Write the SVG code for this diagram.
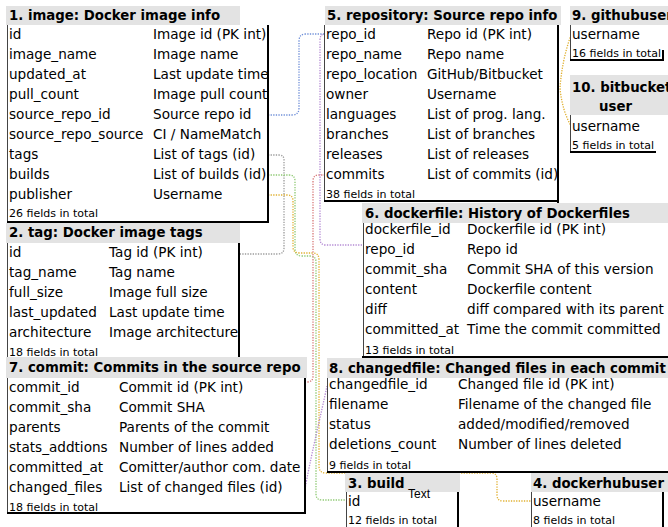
<svg xmlns="http://www.w3.org/2000/svg" width="668" height="527" viewBox="0 0 668 527">
<style>
text{font-family:"DejaVu Sans",Verdana,sans-serif;font-size:13.6px;fill:#000}
.ht{font-weight:bold;font-size:13.3px}
.ft{font-size:11px}
.hd{fill:#e3e3e3}
.body{fill:#fff}
.bl{fill:none;stroke:#444;stroke-width:1}
.br{fill:none;stroke:#000;stroke-width:2}
.c{fill:none;stroke-width:1.3;stroke-dasharray:1.3 1.3}
.lbl{font-family:"Liberation Sans",Arial,sans-serif;font-size:12px}
</style>
<g id="connectors">
<path class="c" stroke="#6f8fd8" d="M268,115 H292 Q299,115 299,108 V41 Q299,34 306,34 H325"/>
<path class="c" stroke="#9a9a9a" d="M268,155 H279 Q284,155 284,160 V248 Q284,254 278,254 H240"/>
<path class="c" stroke="#8cc870" d="M268,175 H289 Q295,175 295,181 V249 Q295,256 302,256 H310 Q316,256 316,262 V494 Q316,500 322,500 H346"/>
<path class="c" stroke="#e0b030" d="M268,195 H287 Q293,195 293,201 V247 Q293,253 300,253 H313 Q319,253 319,260 V466 Q319,473 326,473 H491 Q497,473 497,479 V495 Q497,501 503,501 H531"/>
<path class="c" stroke="#d87878" d="M325,175 H319 Q313,175 313,181 V376 Q313,382 307,382 H305"/>
<path class="c" stroke="#b48ad4" d="M362,245 H326 Q320,245 320,239 V40 Q320,34 325,34"/>
<path class="c" stroke="#b48ad4" d="M305,489 C310,460 322,410 327,386"/>
<path class="c" stroke="#e0b030" d="M571,35 Q562,60 560,88 Q562,110 571,126"/>
</g>
<g id="t1">
<rect class="body" x="7" y="25" width="261" height="197"/>
<rect class="hd" x="6" y="6" width="234" height="19"/>
<text class="ht" x="9" y="20">1. image: Docker image info</text>
<path class="bl" d="M7.5,25 V222"/>
<path class="br" d="M268,25 V222 H7"/>
<text x="9" y="39">id</text><text x="153" y="39">Image id (PK int)</text>
<text x="9" y="59">image_name</text><text x="153" y="59">Image name</text>
<text x="9" y="79">updated_at</text><text x="153" y="79">Last update time</text>
<text x="9" y="99">pull_count</text><text x="153" y="99">Image pull count</text>
<text x="9" y="119">source_repo_id</text><text x="153" y="119">Source repo id</text>
<text x="9" y="139">source_repo_source</text><text x="153" y="139">CI / NameMatch</text>
<text x="9" y="159">tags</text><text x="153" y="159">List of tags (id)</text>
<text x="9" y="179">builds</text><text x="153" y="179">List of builds (id)</text>
<text x="9" y="199">publisher</text><text x="153" y="199">Username</text>
<text class="ft" x="9" y="217">26 fields in total</text>
</g>
<g id="t2">
<rect class="body" x="7" y="243" width="232" height="114"/>
<rect class="hd" x="6" y="223" width="234" height="20"/>
<text class="ht" x="9" y="237">2. tag: Docker image tags</text>
<path class="bl" d="M7.5,243 V357"/>
<path class="br" d="M239,243 V357"/>
<text x="9" y="257">id</text><text x="109" y="257">Tag id (PK int)</text>
<text x="9" y="277">tag_name</text><text x="109" y="277">Tag name</text>
<text x="9" y="297">full_size</text><text x="109" y="297">Image full size</text>
<text x="9" y="317">last_updated</text><text x="109" y="317">Last update time</text>
<text x="9" y="337">architecture</text><text x="109" y="337">Image architecture</text>
<text class="ft" x="9" y="356">18 fields in total</text>
</g>
<g id="t7">
<rect class="body" x="7" y="378" width="298" height="135"/>
<rect class="hd" x="6" y="357" width="301" height="21"/>
<text class="ht" x="9" y="372">7. commit: Commits in the source repo</text>
<path class="bl" d="M7.5,378 V513"/>
<path class="br" d="M305,378 V513 H7"/>
<text x="9" y="392">commit_id</text><text x="119" y="392">Commit id (PK int)</text>
<text x="9" y="412">commit_sha</text><text x="119" y="412">Commit SHA</text>
<text x="9" y="432">parents</text><text x="119" y="432">Parents of the commit</text>
<text x="9" y="452">stats_addtions</text><text x="119" y="452">Number of lines added</text>
<text x="9" y="472">committed_at</text><text x="119" y="472">Comitter/author com. date</text>
<text x="9" y="492">changed_files</text><text x="119" y="492">List of changed files (id)</text>
<text class="ft" x="9" y="511">18 fields in total</text>
</g>
<g id="t5">
<rect class="body" x="324" y="25" width="234" height="176"/>
<rect class="hd" x="325" y="6" width="236" height="19"/>
<text class="ht" x="327" y="20">5. repository: Source repo info</text>
<path class="bl" d="M324.5,25 V201"/>
<path class="br" d="M558,25 V205 M558,201 H324"/>
<text x="326" y="39">repo_id</text><text x="427" y="39">Repo id (PK int)</text>
<text x="326" y="59">repo_name</text><text x="427" y="59">Repo name</text>
<text x="326" y="79">repo_location</text><text x="427" y="79">GitHub/Bitbucket</text>
<text x="326" y="99">owner</text><text x="427" y="99">Username</text>
<text x="326" y="119">languages</text><text x="427" y="119">List of prog. lang.</text>
<text x="326" y="139">branches</text><text x="427" y="139">List of branches</text>
<text x="326" y="159">releases</text><text x="427" y="159">List of releases</text>
<text x="326" y="179">commits</text><text x="427" y="179">List of commits (id)</text>
<text class="ft" x="326" y="198">38 fields in total</text>
</g>
<g id="t9">
<rect class="body" x="570" y="25" width="93" height="35"/>
<rect class="hd" x="570" y="6" width="98" height="19"/>
<text class="ht" x="572" y="20">9. githubuser</text>
<path class="bl" d="M570.5,25 V60"/>
<path class="br" d="M663,50 V60 H570"/>
<text x="572" y="39">username</text>
<text class="ft" x="572" y="57">16 fields in total</text>
</g>
<g id="t10">
<rect class="body" x="570" y="115" width="93" height="37"/>
<rect class="hd" x="570" y="75" width="98" height="40"/>
<text class="ht" x="572" y="92">10. bitbucket</text>
<text class="ht" x="599" y="111">user</text>
<path class="bl" d="M570.5,115 V152"/>
<path class="br" d="M570,152 H656"/>
<text x="572" y="131">username</text>
<text class="ft" x="572" y="149">5 fields in total</text>
</g>
<g id="t6">
<rect class="body" x="363" y="223" width="305" height="134"/>
<rect class="hd" x="362" y="203" width="306" height="20"/>
<text class="ht" x="365" y="218">6. dockerfile: History of Dockerfiles</text>
<path class="bl" d="M363.5,223 V357"/>
<path class="br" d="M362,357 H668"/>
<text x="365" y="234">dockerfile_id</text><text x="467" y="234">Dockerfile id (PK int)</text>
<text x="365" y="254">repo_id</text><text x="467" y="254">Repo id</text>
<text x="365" y="274">commit_sha</text><text x="467" y="274">Commit SHA of this version</text>
<text x="365" y="294">content</text><text x="467" y="294">Dockerfile content</text>
<text x="365" y="314">diff</text><text x="467" y="314">diff compared with its parent</text>
<text x="365" y="334">committed_at</text><text x="467" y="334">Time the commit committed</text>
<text class="ft" x="365" y="354">13 fields in total</text>
</g>
<g id="t8">
<rect class="body" x="327" y="378" width="341" height="94"/>
<rect class="hd" x="327" y="358" width="341" height="20"/>
<text class="ht" x="329" y="373">8. changedfile: Changed files in each commit</text>
<path class="bl" d="M327.5,378 V472"/>
<path class="br" d="M327,472 H668"/>
<text x="329" y="389">changedfile_id</text><text x="458" y="389">Changed file id (PK int)</text>
<text x="329" y="409">filename</text><text x="458" y="409">Filename of the changed file</text>
<text x="329" y="429">status</text><text x="458" y="429">added/modified/removed</text>
<text x="329" y="449">deletions_count</text><text x="458" y="449">Number of lines deleted</text>
<text class="ft" x="329" y="469">9 fields in total</text>
</g>
<g id="t3">
<rect class="body" x="346" y="492" width="112" height="35"/>
<rect class="hd" x="345" y="473" width="115" height="19"/>
<text class="ht" x="348" y="488">3. build</text>
<path class="bl" d="M346.5,492 V527"/>
<path class="br" d="M458,492 V527"/>
<text x="348" y="506">id</text>
<text class="ft" x="348" y="524">12 fields in total</text>
<text class="lbl" x="408" y="498">Text</text>
</g>
<g id="t4">
<rect class="body" x="531" y="492" width="132" height="35"/>
<rect class="hd" x="531" y="473" width="137" height="19"/>
<text class="ht" x="533" y="488">4. dockerhubuser</text>
<path class="bl" d="M531.5,492 V527"/>
<path class="br" d="M663,492 V527"/>
<text x="533" y="506">username</text>
<text class="ft" x="533" y="524">8 fields in total</text>
</g>
</svg>
